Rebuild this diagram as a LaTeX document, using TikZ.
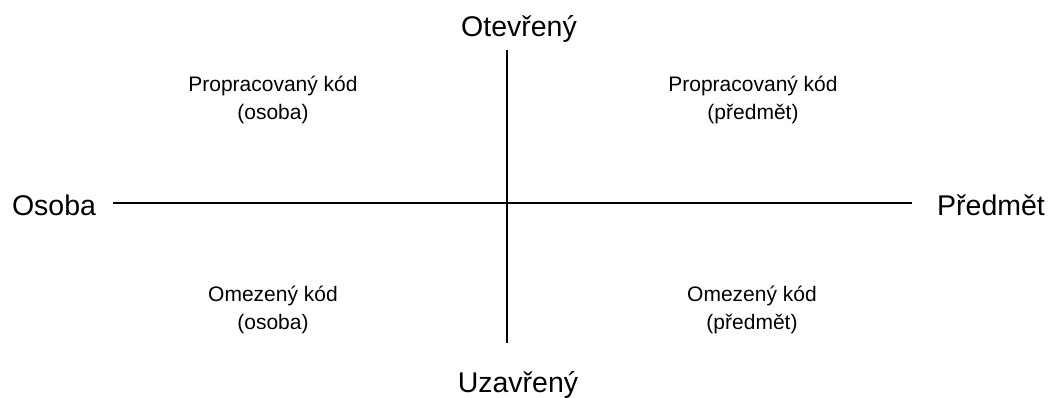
\documentclass[tikz,border=0pt]{standalone}
\usepackage{fontspec}
\setmainfont{Liberation Sans}
\usetikzlibrary{positioning}

\begin{document}
\begin{tikzpicture}[x=1pt,y=-1pt,
  pole/.style={font=\fontsize{28.5}{34}\selectfont,anchor=base,inner sep=0pt},
  quad/.style={font=\fontsize{21}{27.5}\selectfont,align=center,inner sep=0pt},
  axis/.style={line width=1.2pt}]
\useasboundingbox (0,0) rectangle (1049,398);

\node[pole] (osoba) at (54,215) {Osoba};
\node[pole] (predmet) at (991,215) {Předmět};
\node[pole] (otevreny) at (519,37) {Otevřený};
\node[pole] (uzavreny) at (518,392) {Uzavřený};

\coordinate (W) at (113,203);
\coordinate (E) at (912,203);
\coordinate (N) at (507,50);
\coordinate (S) at (507,343);

\draw[axis] (W)--(E);
\draw[axis] (N)--(S);

\node[quad] (PO) at (273,100) {Propracovaný kód\\(osoba)};
\node[quad] (PP) at (753,100) {Propracovaný kód\\(předmět)};
\node[quad] (OO) at (273,310) {Omezený kód\\(osoba)};
\node[quad] (OP) at (752,310) {Omezený kód\\(předmět)};
\end{tikzpicture}
\end{document}
